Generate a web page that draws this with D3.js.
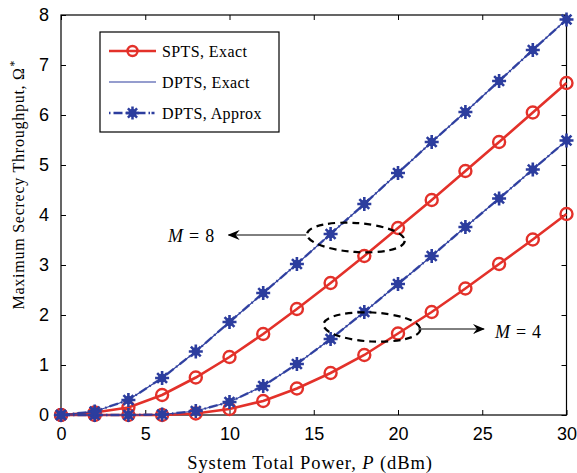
<!DOCTYPE html>
<html>
<head>
<meta charset="utf-8">
<script src="https://cdn.jsdelivr.net/npm/d3@7"></script>
<style>
  html, body { margin: 0; padding: 0; background: #fff; }
  svg { display: block; }
</style>
</head>
<body>
<svg id="chart" width="577" height="473"></svg>
<script>
// Transmit power (dBm)
const power = [0, 2, 4, 6, 8, 10, 12, 14, 16, 18, 20, 22, 24, 26, 28, 30];

// Maximum secrecy throughput, M = 8
const sptsExactM8  = [0, 0.05, 0.15, 0.40, 0.75, 1.16, 1.62, 2.12, 2.64, 3.18, 3.74, 4.30, 4.88, 5.46, 6.05, 6.64];
const dptsExactM8  = [0, 0.07, 0.30, 0.74, 1.27, 1.86, 2.44, 3.02, 3.62, 4.22, 4.84, 5.46, 6.06, 6.68, 7.30, 7.91];
const dptsApproxM8 = [0, 0.07, 0.30, 0.74, 1.27, 1.86, 2.44, 3.02, 3.62, 4.22, 4.84, 5.46, 6.06, 6.68, 7.30, 7.91];

// Maximum secrecy throughput, M = 4
const sptsExactM4  = [0, 0, 0, 0, 0.03, 0.12, 0.28, 0.53, 0.84, 1.20, 1.63, 2.06, 2.53, 3.02, 3.51, 4.02];
const dptsExactM4  = [0, 0, 0, 0.01, 0.08, 0.26, 0.58, 1.02, 1.52, 2.06, 2.62, 3.18, 3.76, 4.33, 4.91, 5.49];
const dptsApproxM4 = [0, 0, 0, 0.01, 0.08, 0.26, 0.58, 1.02, 1.52, 2.06, 2.62, 3.18, 3.76, 4.33, 4.91, 5.49];

const xTicks = [0, 5, 10, 15, 20, 25, 30];
const yTicks = [0, 1, 2, 3, 4, 5, 6, 7, 8];

const legendLabels = ["SPTS, Exact", "DPTS, Exact", "DPTS, Approx"];

const RED = "#e3312a";
const BLUE = "#2c3d9e";

const svg = d3.select("#chart");
const margin = { left: 61, top: 15 };
const pw = 566.5 - margin.left, ph = 415 - margin.top;

const x = d3.scaleLinear().domain([0, 30]).range([margin.left, margin.left + pw]);
const y = d3.scaleLinear().domain([0, 8]).range([margin.top + ph, margin.top]);

const sans = "'Liberation Sans', Arial, sans-serif";
const serif = "'Liberation Serif', 'Times New Roman', serif";

// Plot area clip
svg.append("defs").append("clipPath").attr("id", "plotclip")
  .append("rect").attr("x", margin.left - 8).attr("y", margin.top - 8)
  .attr("width", pw + 16).attr("height", ph + 16);

// Axes with inward ticks on all four sides
const tickStyle = g => {
  g.select(".domain").remove();
  g.selectAll(".tick line").attr("stroke", "#000").attr("stroke-width", 1);
  g.selectAll(".tick text").attr("font-family", sans).attr("font-size", 18).attr("fill", "#000");
};
svg.append("g").attr("transform", `translate(0,${y(0)})`)
  .call(d3.axisBottom(x).tickValues(xTicks).tickSizeInner(-5).tickSizeOuter(0).tickPadding(12).tickFormat(d3.format("d")))
  .call(tickStyle);
svg.append("g").attr("transform", `translate(0,${y(8)})`)
  .call(d3.axisTop(x).tickValues(xTicks).tickSizeInner(-5).tickSizeOuter(0).tickFormat(""))
  .call(tickStyle);
svg.append("g").attr("transform", `translate(${x(0)},0)`)
  .call(d3.axisLeft(y).tickValues(yTicks).tickSizeInner(-5).tickSizeOuter(0).tickPadding(12).tickFormat(d3.format("d")))
  .call(tickStyle);
svg.append("g").attr("transform", `translate(${x(30)},0)`)
  .call(d3.axisRight(y).tickValues(yTicks).tickSizeInner(-5).tickSizeOuter(0).tickFormat(""))
  .call(tickStyle);

// Frame
svg.append("rect").attr("x", x(0)).attr("y", y(8))
  .attr("width", x(30) - x(0)).attr("height", y(0) - y(8))
  .attr("fill", "none").attr("stroke", "#000").attr("stroke-width", 1.2);

const line = d3.line().x((d, i) => x(power[i])).y(d => y(d));

const plot = svg.append("g").attr("clip-path", "url(#plotclip)");

// Asterisk marker path
function asterisk(r) {
  let p = "";
  for (let k = 0; k < 4; k++) {
    const a = k * Math.PI / 4;
    const dx = r * Math.cos(a), dy = r * Math.sin(a);
    p += `M${-dx},${-dy}L${dx},${dy}`;
  }
  return p;
}

function drawSpts(vals) {
  plot.append("path").datum(vals).attr("d", line)
    .attr("fill", "none").attr("stroke", RED).attr("stroke-width", 2.6);
  plot.selectAll(null).data(vals).enter().append("circle")
    .attr("cx", (d, i) => x(power[i])).attr("cy", d => y(d)).attr("r", 6)
    .attr("fill", "none").attr("stroke", RED).attr("stroke-width", 2.4);
}
function drawDptsExact(vals) {
  plot.append("path").datum(vals).attr("d", line)
    .attr("fill", "none").attr("stroke", BLUE).attr("stroke-width", 1.1);
}
function drawDptsApprox(vals) {
  plot.append("path").datum(vals).attr("d", line)
    .attr("fill", "none").attr("stroke", BLUE).attr("stroke-width", 2.4)
    .attr("stroke-dasharray", "9,3,1.5,3").attr("opacity", 0.9);
  const m = plot.selectAll(null).data(vals).enter().append("g")
    .attr("transform", (d, i) => `translate(${x(power[i])},${y(d)})`);
  m.append("circle").attr("r", 4.2).attr("fill", BLUE);
  m.append("path").attr("d", asterisk(7)).attr("stroke", BLUE).attr("stroke-width", 2.6);
}

drawSpts(sptsExactM4);
drawSpts(sptsExactM8);
drawDptsExact(dptsExactM4);
drawDptsExact(dptsExactM8);
drawDptsApprox(dptsApproxM4);
drawDptsApprox(dptsApproxM8);

// Annotations: dashed ellipses, arrows, group labels
const defs = svg.select("defs");
defs.append("marker").attr("id", "arrowhead").attr("viewBox", "0 0 12 10")
  .attr("refX", 11).attr("refY", 5).attr("markerWidth", 12).attr("markerHeight", 10)
  .attr("markerUnits", "userSpaceOnUse").attr("orient", "auto")
  .append("path").attr("d", "M0,0 L12,5 L0,10 L4,5 Z").attr("fill", "#000");

function groupLabel(g, px, py, value) {
  const t = g.append("text").attr("x", px).attr("y", py)
    .attr("font-family", serif).attr("font-size", 18).attr("fill", "#000");
  t.append("tspan").attr("font-style", "italic").text("M");
  t.append("tspan").attr("dx", 6).text("=");
  t.append("tspan").attr("dx", 6).text(value);
}

const ann = svg.append("g");
ann.append("ellipse").attr("cx", x(17.5)).attr("cy", y(3.55)).attr("rx", 49).attr("ry", 14.5)
  .attr("transform", `rotate(4,${x(17.5)},${y(3.55)})`)
  .attr("fill", "none").attr("stroke", "#000").attr("stroke-width", 2.2).attr("stroke-dasharray", "7,5");
ann.append("line").attr("x1", x(14.55)).attr("y1", y(3.6)).attr("x2", x(9.95)).attr("y2", y(3.6))
  .attr("stroke", "#000").attr("stroke-width", 1).attr("marker-end", "url(#arrowhead)");
groupLabel(ann, x(6.35), y(3.46), "8");

ann.append("ellipse").attr("cx", x(18.45)).attr("cy", y(1.76)).attr("rx", 48.5).attr("ry", 14.5)
  .attr("transform", `rotate(3,${x(18.45)},${y(1.76)})`)
  .attr("fill", "none").attr("stroke", "#000").attr("stroke-width", 2.2).attr("stroke-dasharray", "7,5");
ann.append("line").attr("x1", x(21.2)).attr("y1", y(1.72)).attr("x2", x(25.1)).attr("y2", y(1.72))
  .attr("stroke", "#000").attr("stroke-width", 1).attr("marker-end", "url(#arrowhead)");
groupLabel(ann, x(25.75), y(1.54), "4");

// Legend
const lg = svg.append("g");
lg.append("rect").attr("x", 100).attr("y", 32).attr("width", 179).attr("height", 100)
  .attr("fill", "#fff").attr("stroke", "#000").attr("stroke-width", 1.2);
const ly = [51, 82, 113];
// SPTS
lg.append("line").attr("x1", 109).attr("x2", 156).attr("y1", ly[0]).attr("y2", ly[0])
  .attr("stroke", RED).attr("stroke-width", 2.6);
lg.append("circle").attr("cx", 132.5).attr("cy", ly[0]).attr("r", 5).attr("fill", "none")
  .attr("stroke", RED).attr("stroke-width", 2.4);
// DPTS exact
lg.append("line").attr("x1", 109).attr("x2", 156).attr("y1", ly[1]).attr("y2", ly[1])
  .attr("stroke", BLUE).attr("stroke-width", 1.1);
// DPTS approx
lg.append("line").attr("x1", 109).attr("x2", 156).attr("y1", ly[2]).attr("y2", ly[2])
  .attr("stroke", BLUE).attr("stroke-width", 2.4).attr("stroke-dasharray", "1.5,3,9,3,20,3,1.5");
const lm = lg.append("g").attr("transform", `translate(132.5,${ly[2]})`);
lm.append("circle").attr("r", 4).attr("fill", BLUE);
lm.append("path").attr("d", asterisk(6.5)).attr("stroke", BLUE).attr("stroke-width", 2.5);

lg.selectAll(null).data(legendLabels).enter().append("text")
  .attr("x", 162).attr("y", (d, i) => ly[i] + 5.5)
  .attr("font-family", serif).attr("font-size", 16).attr("letter-spacing", 0.4).attr("fill", "#000")
  .text(d => d);

// Axis titles
const xl = svg.append("text").attr("x", 310).attr("y", 469).attr("text-anchor", "middle")
  .attr("font-family", serif).attr("font-size", 18.5).attr("letter-spacing", 0.9).attr("fill", "#000");
xl.append("tspan").text("System Total Power, ");
xl.append("tspan").attr("font-style", "italic").text("P");
xl.append("tspan").text(" (dBm)");

const yl = svg.append("text").attr("transform", "translate(24,185) rotate(-90)")
  .attr("text-anchor", "middle")
  .attr("font-family", serif).attr("font-size", 16).attr("letter-spacing", 0.75).attr("fill", "#000");
yl.append("tspan").text("Maximum Secrecy Throughput, Ω");
yl.append("tspan").attr("font-style", "italic").attr("dy", -6).attr("font-size", 12).text("*");
</script>
</body>
</html>
